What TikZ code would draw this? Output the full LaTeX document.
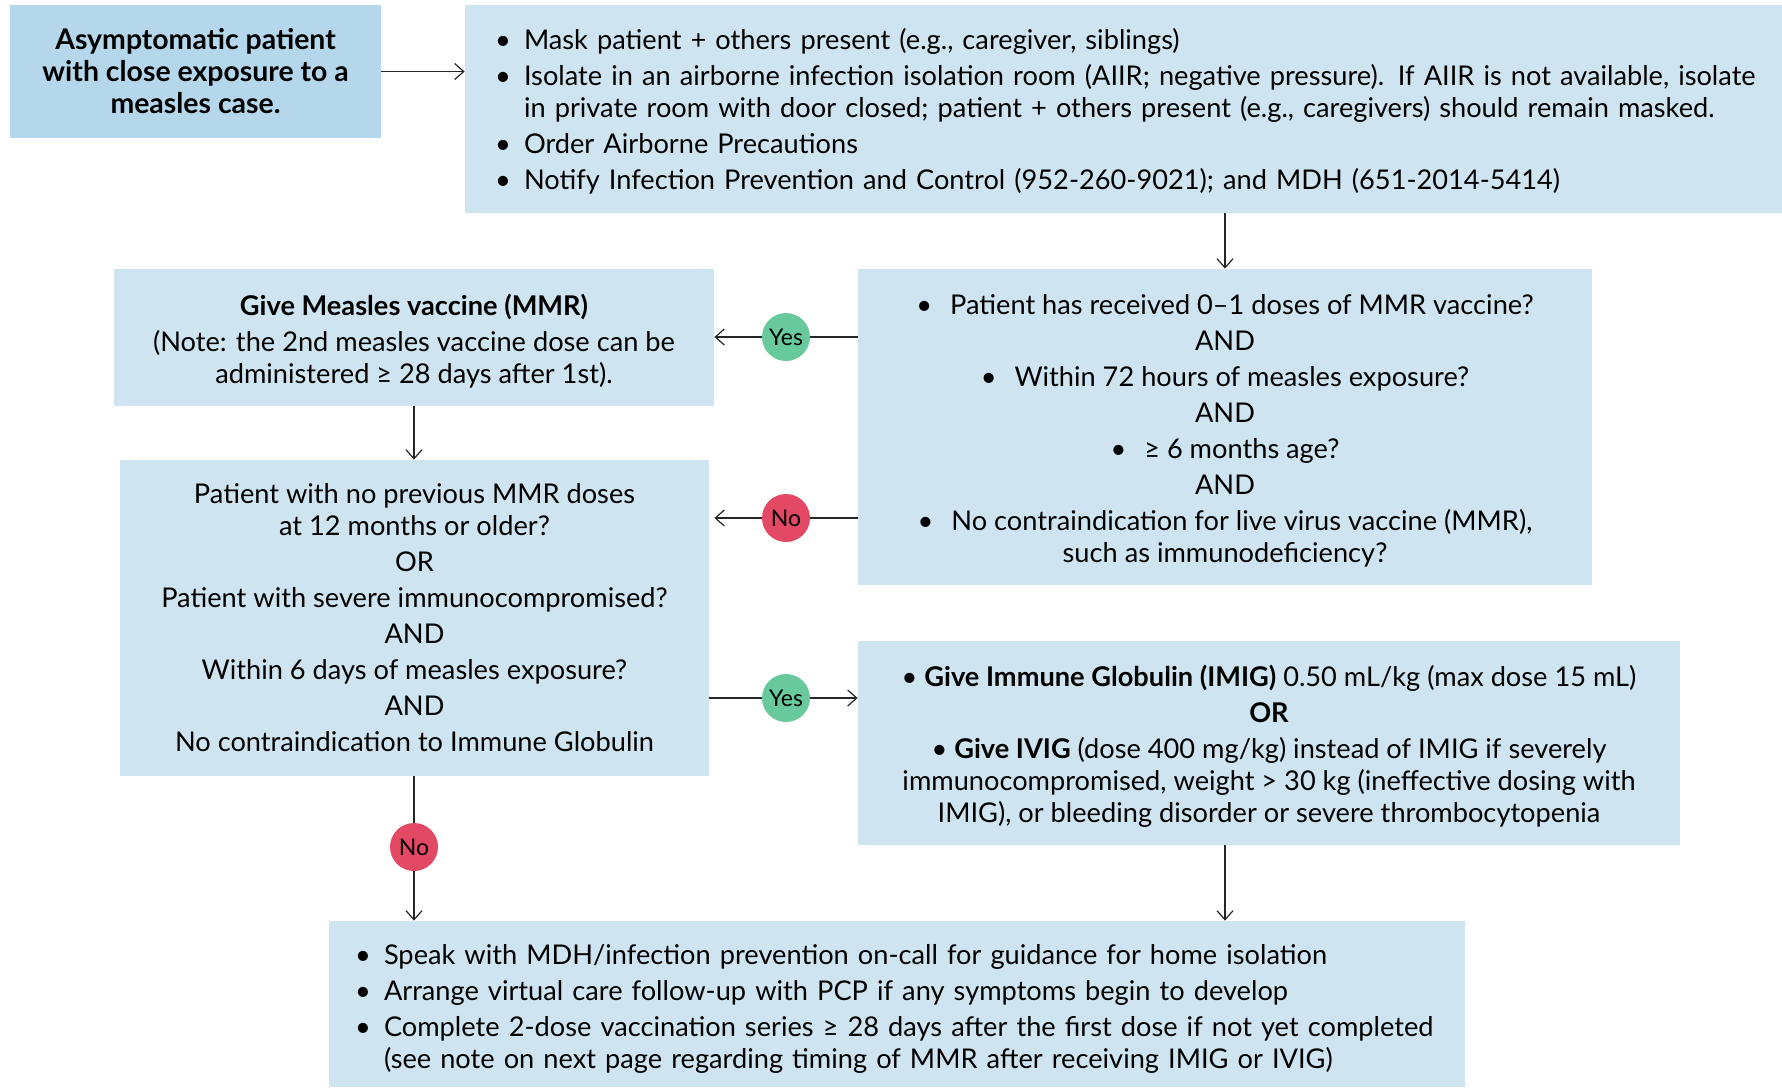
\documentclass[tikz,border=0pt]{standalone}
\usepackage{fontspec}
\setmainfont{Lato}
\usetikzlibrary{arrows.meta}

\definecolor{boxdark}{HTML}{B4D7EC}
\definecolor{boxlight}{HTML}{CFE4F1}
\definecolor{yesgreen}{HTML}{68C99C}
\definecolor{nored}{HTML}{E34865}

\newcommand\bul{\makebox[14.5pt][l]{\textbullet}}
\newcommand\bfirst[1]{\hangindent=14.5pt\hangafter=1\noindent\bul#1\par}
\newcommand\bitem[1]{\vspace{2pt}\hangindent=14.5pt\hangafter=1\noindent\bul#1\par}

\tikzset{
    box/.style={fill=boxlight, inner sep=0pt, font=\fontsize{13.6}{16}\selectfont, align=center},
    boxtext/.style={inner sep=0pt, font=\fontsize{13.6}{16}\selectfont, align=center},
    yesdot/.style={circle, fill=yesgreen, minimum size=24pt, inner sep=0pt, font=\fontsize{11.5}{13}\selectfont},
    nodot/.style={yesdot, fill=nored},
    arr/.style={-{Straight Barb[length=4.5pt, width=8pt]}, line width=0.6pt, black!85}
}

\begin{document}
\begin{tikzpicture}[x=0.5pt, y=-0.5pt]
    \useasboundingbox (0,0) rectangle (1782,1087);
    % boxes
    \node[box, fill=boxdark, minimum width=185.5pt, minimum height=66.5pt, font=\fontsize{14.2}{16}\selectfont\bfseries] (start) at (195.5,71.5)
        {Asymptomatic patient\\with close exposure to a\\measles case.};
    \node[box, minimum width=658.5pt, minimum height=104pt] (isolate) at (1123.5,109) {};
    \node[boxtext, align=left, text width=646.5pt] (isolate-text) at ([yshift=-1.1pt]isolate.center) {%
        \leftskip=9pt
        \bfirst{Mask patient + others present (e.g., caregiver, siblings)}
        \bitem{Isolate in an airborne infection isolation room (AIIR; negative pressure). If AIIR is not available, isolate\newline in private room with door closed; patient + others present (e.g., caregivers) should remain masked.}
        \bitem{Order Airborne Precautions}
        \bitem{Notify Infection Prevention and Control (952-260-9021); and MDH (651-2014-5414)}};
    \node[box, minimum width=300pt, minimum height=68.5pt] (vaccine) at (414,337.5) {};
    \node[boxtext] (vaccine-text) at ([yshift=-1.7pt]vaccine.center)
        {\textbf{Give Measles vaccine (MMR)}\\[2pt](Note: the 2nd measles vaccine dose can be\\administered ≥ 28 days after 1st).};
    \node[box, minimum width=367pt, minimum height=158pt] (criteria) at (1225,427) {};
    \node[boxtext] (criteria-text) at ([yshift=-2pt]criteria.center)
        {\textbullet\hspace{9pt}Patient has received 0–1 doses of MMR vaccine?\\[2pt]
         AND\\[2pt]
         \textbullet\hspace{9pt}Within 72 hours of measles exposure?\\[2pt]
         AND\\[2pt]
         \textbullet\hspace{9pt}≥ 6 months age?\\[2pt]
         AND\\[2pt]
         \textbullet\hspace{9pt}No contraindication for live virus vaccine (MMR),\\such as immunodeficiency?};
    \node[box, minimum width=294.5pt, minimum height=158pt] (globulin) at (414.5,618)
        {Patient with no previous MMR doses\\at 12 months or older?\\[2pt]
         OR\\[2pt]
         Patient with severe immunocompromised?\\[2pt]
         AND\\[2pt]
         Within 6 days of measles exposure?\\[2pt]
         AND\\[2pt]
         No contraindication to Immune Globulin};
    \node[box, minimum width=411pt, minimum height=102pt] (imig) at (1269,743) {};
    \node[boxtext] (imig-text) at ([yshift=-1.4pt]imig.center)
        {\textbullet\ \textbf{Give Immune Globulin (IMIG)} 0.50 mL/kg (max dose 15 mL)\\[2pt]
         \textbf{OR}\\[2pt]
         \textbullet\ \textbf{Give IVIG} (dose 400 mg/kg) instead of IMIG if severely\\
         immunocompromised, weight > 30 kg (ineffective dosing with\\
         IMIG), or bleeding disorder or severe thrombocytopenia};
    \node[box, minimum width=568pt, minimum height=83pt] (home) at (897,1004) {};
    \node[boxtext, align=left, text width=556pt] (home-text) at ([yshift=-2.6pt]home.center) {%
        \leftskip=7pt
        \bfirst{Speak with MDH/infection prevention on-call for guidance for home isolation}
        \bitem{Arrange virtual care follow-up with PCP if any symptoms begin to develop}
        \bitem{Complete 2-dose vaccination series ≥ 28 days after the first dose if not yet completed\newline (see note on next page regarding timing of MMR after receiving IMIG or IVIG)}};
    % decision dots
    \node[yesdot] (yes1) at (786,337) {Yes};
    \node[nodot] (no1) at (786,518) {No};
    \node[yesdot] (yes2) at (786,698) {Yes};
    \node[nodot] (no2) at (414,847) {No};
    % connectors
    \draw[arr] (start.east) -- (start.east -| isolate.west);
    \draw[arr] (isolate.south -| criteria.north) -- (criteria.north);
    \draw[arr] (criteria.west |- yes1) -- (yes1) -- (yes1 -| vaccine.east);
    \draw[arr] (criteria.west |- no1) -- (no1) -- (no1 -| vaccine.east);
    \draw[arr] (vaccine.south) -- (vaccine.south |- globulin.north);
    \draw[arr] (globulin.east |- yes2) -- (yes2) -- (yes2 -| imig.west);
    \draw[arr] (globulin.south -| no2) -- (no2) -- (no2 |- home.north);
    \draw[arr] (imig.south -| criteria.south) -- (criteria.south |- home.north);
\end{tikzpicture}
\end{document}
